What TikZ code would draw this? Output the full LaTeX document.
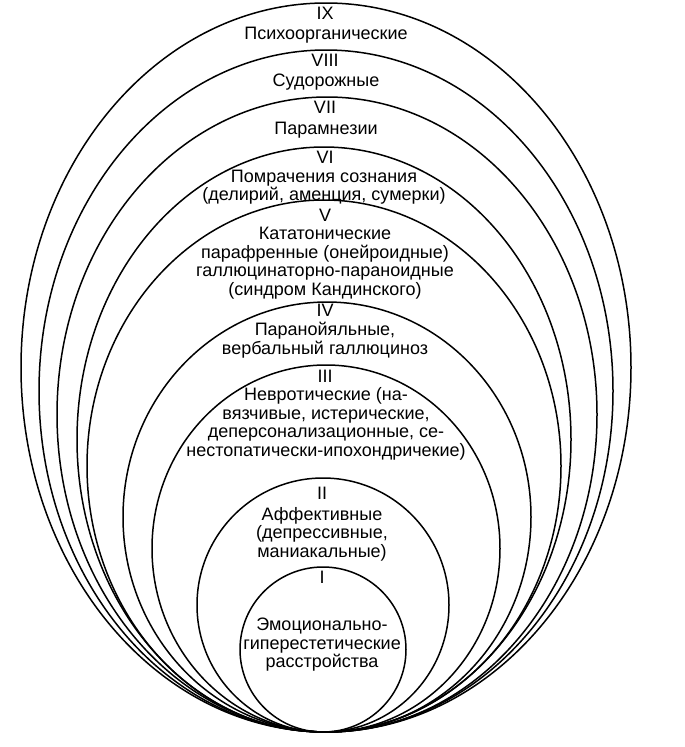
\documentclass[tikz,border=0pt]{standalone}
\usepackage{fontspec}
\setmainfont{Liberation Sans}
\usepackage{tikz}

\begin{document}
\begin{tikzpicture}[x=1pt,y=-1pt,font=\fontsize{18}{18.5}\selectfont]
    \useasboundingbox (0,0) rectangle (685,747);
    \tikzset{ring/.style={line width=1.5pt},lbl/.style={inner sep=0pt,align=center}}
    \draw[ring] (326,367.5) ellipse [x radius=305pt, y radius=364.5pt];
    \draw[ring] (326,391) ellipse [x radius=287pt, y radius=341pt];
    \draw[ring] (327,414.5) ellipse [x radius=270pt, y radius=317.5pt];
    \draw[ring] (324,439.5) ellipse [x radius=247pt, y radius=292.5pt];
    \draw[ring] (324,466) ellipse [x radius=237pt, y radius=266pt];
    \draw[ring] (327,517) ellipse [x radius=204pt, y radius=215pt];
    \draw[ring] (326,548.5) ellipse [x radius=174pt, y radius=183.5pt];
    \draw[ring] (323,605) ellipse [x radius=126pt, y radius=127pt];
    \draw[ring] (323,649.5) ellipse [x radius=83pt, y radius=82.5pt];
    \node[lbl] (n9) at (325,13) {IX};
    \node[lbl] (t9) at (326,35) {Психоорганические};
    \node[lbl] (n8) at (325,60) {VIII};
    \node[lbl] (t8) at (326,82) {Судорожные};
    \node[lbl] (n7) at (325,107) {VII};
    \node[lbl] (t7) at (326,130) {Парамнезии};
    \node[lbl] (n6) at (325,157) {VI};
    \node[lbl] (t6) at (324,187) {Помрачения сознания\\(делирий, аменция, сумерки)};
    \node[lbl] (n5) at (325,215) {V};
    \node[lbl] (t5) at (325,263) {Кататонические\\парафренные (онейроидные)\\галлюцинаторно-параноидные\\(синдром Кандинского)};
    \node[lbl] (n4) at (325,310) {IV};
    \node[lbl] (t4) at (325,340) {Паранойяльные,\\вербальный галлюциноз};
    \node[lbl] (n3) at (325,376) {III};
    \node[lbl] (t3) at (326,424) {Невротические (на-\\вязчивые, истерические,\\деперсонализационные, се-\\нестопатически-ипохондричекие)};
    \node[lbl] (n2) at (322,493) {II};
    \node[lbl] (t2) at (322,534) {Аффективные\\(депрессивные,\\маниакальные)};
    \node[lbl] (n1) at (322,577) {I};
    \node[lbl] (t1) at (322,645) {Эмоционально-\\гиперестетические\\расстройства};
\end{tikzpicture}
\end{document}
